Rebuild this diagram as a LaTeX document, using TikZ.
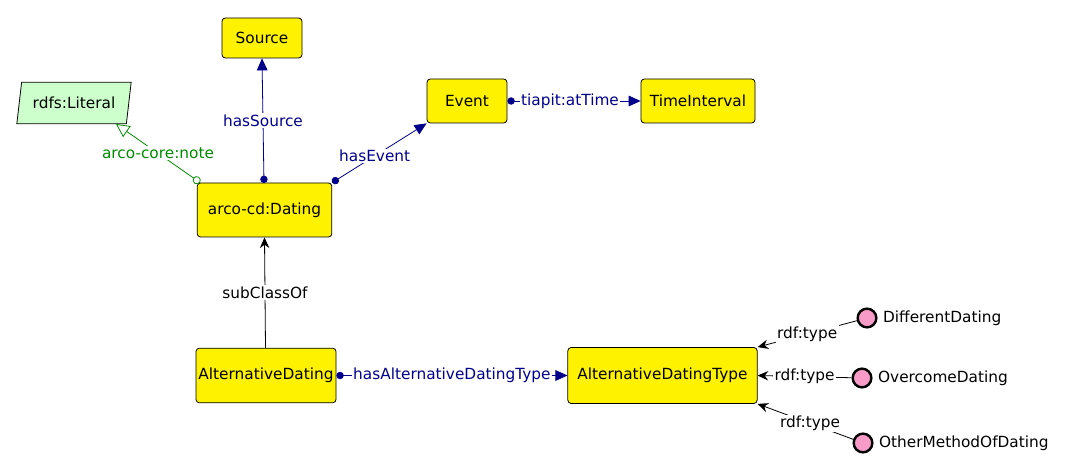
\documentclass[tikz,border=0pt]{standalone}
\usepackage{fontspec}
\setmainfont{DejaVu Sans}
\usetikzlibrary{arrows.meta,shapes.geometric}
\definecolor{navy}{RGB}{0,0,140}
\definecolor{notegreen}{RGB}{0,140,0}
\definecolor{litfill}{RGB}{204,255,204}
\definecolor{indfill}{RGB}{248,155,200}
\tikzset{
  cls/.style={draw=black, fill=yellow, rounded corners=2.5pt, line width=0.6pt, font=\fontsize{11.5}{13}\selectfont, align=center, inner sep=1pt},
  ind/.style={circle, draw=black, fill=indfill, line width=1.8pt, minimum size=14pt, inner sep=0pt},
  indlab/.style={font=\fontsize{11.5}{13}\selectfont, anchor=west, inner sep=1pt},
  objprop/.style={draw=navy, line width=0.6pt, {Circle[length=5.5pt]}-{Triangle[length=9pt,width=8pt]}},
  plab/.style={fill=white, inner sep=1pt, font=\fontsize{11.5}{13}\selectfont},
  sub/.style={draw=black, line width=0.6pt, -{Stealth[length=8pt,width=7pt]}},
}
\begin{document}
\begin{tikzpicture}[x=0.75pt,y=-0.75pt]
\useasboundingbox (0,0) rectangle (1068,470);
% classes
\node[cls, minimum width=60pt, minimum height=30pt] (source) at (262,38) {Source};
\node[trapezium, trapezium left angle=75, trapezium right angle=105, trapezium stretches=true, draw=black, fill=litfill, line width=0.6pt, minimum width=86pt, minimum height=31pt, font=\fontsize{11.5}{13}\selectfont, inner sep=1pt] (lit) at (74,103) {rdfs:Literal};
\node[cls, minimum width=101pt, minimum height=40.5pt] (dating) at (264.5,210) {arco-cd:Dating};
\node[cls, minimum width=60pt, minimum height=33pt] (event) at (467,101) {Event};
\node[cls, minimum width=85.5pt, minimum height=33pt] (time) at (698,101) {TimeInterval};
\node[cls, minimum width=105pt, minimum height=41pt] (alt) at (266,375.5) {AlternativeDating};
\node[cls, minimum width=142pt, minimum height=42pt] (alttype) at (662.5,375.5) {AlternativeDatingType};
% individuals
\node[ind] (diff) at (867,318) {};
\node[indlab] at ([xshift=3pt]diff.east) {DifferentDating};
\node[ind] (over) at (862,378) {};
\node[indlab] at ([xshift=3pt]over.east) {OvercomeDating};
\node[ind] (other) at (863,443) {};
\node[indlab] at ([xshift=3pt]other.east) {OtherMethodOfDating};
% coordinates
\coordinate (dsrc) at (264,183);
\coordinate (dnote) at (200,182.5);
\coordinate (litend) at (116,124);
\coordinate (atop) at (265.5,348);
% object properties
\draw[objprop] (dsrc) -- node[plab, text=navy] {hasSource} (source.south);
\draw[objprop] (dating.north east) -- node[plab, text=navy, pos=0.45] {hasEvent} (event.south west);
\draw[objprop] (event.east) -- node[plab, text=navy, pos=0.47] {tiapit:atTime} (time.west);
\draw[objprop] (alt.east) -- node[plab, text=navy, pos=0.5] {hasAlternativeDatingType} (alttype.west);
% data property
\draw[draw=notegreen, line width=0.6pt, {Circle[open,length=6pt,fill=white]}-{Triangle[open,length=10pt,width=10pt,fill=white]}] (dnote) -- node[plab, text=notegreen, pos=0.5] {arco-core:note} (litend);
% subclass
\draw[sub] (atop) -- node[plab, pos=0.5] {subClassOf} (dating.south);
% rdf:type
\draw[sub] (diff) -- node[plab, pos=0.5] {rdf:type} (alttype.north east);
\draw[sub] (over) -- node[plab, pos=0.5] {rdf:type} (alttype.east);
\draw[sub] (other) -- node[plab, pos=0.45] {rdf:type} (alttype.south east);
\end{tikzpicture}
\end{document}
